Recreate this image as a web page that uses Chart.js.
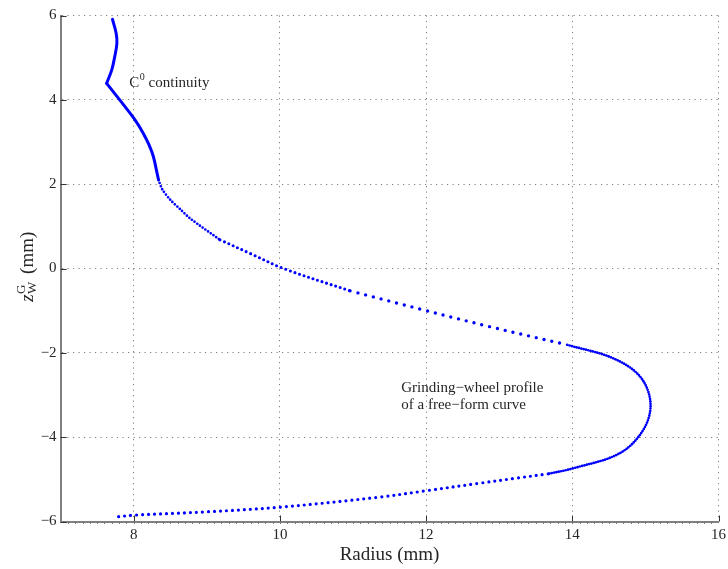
<!DOCTYPE html>
<html><head><meta charset="utf-8">
<script src="https://cdn.jsdelivr.net/npm/chart.js@4.4.0/dist/chart.umd.min.js"></script>
<style>html,body{margin:0;padding:0;background:#fff}#wrap{width:728px;height:569px;position:relative}</style>
</head><body><div id="wrap"><canvas id="c" width="728" height="569"></canvas></div>
<script>
// ---- data ----
const xTicks = [8, 10, 12, 14, 16];
const yTicks = [-6, -4, -2, 0, 2, 4, 6];
const topArc = [[7.71,5.91],[7.76,5.58],[7.77,5.34],[7.74,5.02],[7.70,4.71],[7.63,4.39]];
const upperFlank = [[7.63,4.39],[7.83,3.95],[8.02,3.52],[8.13,3.21],[8.21,2.93],[8.27,2.65],[8.31,2.34],[8.34,2.10]];
const midFlankA = [[8.34,2.10],[8.39,1.88],[8.50,1.63],[8.64,1.40],[8.77,1.19],[9.18,0.68]];
const midFlankB = [[9.18,0.68],[9.59,0.36],[10.05,0.0],[10.96,-0.53]];
const midFlankC = [[10.96,-0.53],[11.96,-0.98],[12.87,-1.38],[13.93,-1.81]];
const tipBulge = [[13.93,-1.81],[14.56,-2.13],[14.93,-2.57],[15.07,-3.20],[14.97,-3.83],[14.65,-4.38],[14.01,-4.74],[13.67,-4.87]];
const lowerFlank = [[13.67,-4.87],[13.24,-4.97],[12.74,-5.09],[12.0,-5.27],[11.37,-5.42],[10.0,-5.66],[9.0,-5.77],[8.0,-5.85],[7.77,-5.89]];
const noteC = 'C';
const noteCsup = '0';
const noteCrest = ' continuity';
const noteG1 = 'Grinding\u2212wheel profile';
const noteG2 = 'of a free\u2212form curve';
const xTitle = 'Radius (mm)';

// ---- styling ----
const SERIF = '"Liberation Serif","Times New Roman",Times,serif';
const BLUE = '#0000ff';
const TXT = '#262626';
const fmt = v => String(v).replace('-', '\u2212');
const toXY = a => a.map(p => ({x: p[0], y: p[1]}));

function seg(pts, width, gap, tension) {
  return {
    data: toXY(pts), showLine: true, borderColor: BLUE, backgroundColor: BLUE,
    borderWidth: width, pointRadius: 0, tension: tension === undefined ? 0.35 : tension,
    borderCapStyle: 'round', borderJoinStyle: 'round',
    borderDash: gap ? [0, gap] : []
  };
}

const extras = {
  id: 'extras',
  afterDraw(chart) {
    const {ctx, chartArea: ca} = chart;
    const x = chart.scales.x, y = chart.scales.y;
    ctx.save();
    // inward major ticks
    ctx.strokeStyle = '#333'; ctx.lineWidth = 1;
    xTicks.forEach(v => { const p = Math.round(x.getPixelForValue(v)) + 0.5;
      ctx.beginPath(); ctx.moveTo(p, ca.bottom); ctx.lineTo(p, ca.bottom - 6); ctx.stroke(); });
    yTicks.forEach(v => { const p = Math.round(y.getPixelForValue(v)) + 0.5;
      ctx.beginPath(); ctx.moveTo(ca.left, p); ctx.lineTo(ca.left + 6, p); ctx.stroke(); });
    // minor ticks on bottom axis
    ctx.strokeStyle = '#777';
    for (let i = 71; i < 160; i++) {
      const p = Math.round(x.getPixelForValue(i / 10)) + 0.5;
      ctx.beginPath(); ctx.moveTo(p, ca.bottom); ctx.lineTo(p, ca.bottom + 2.5); ctx.stroke();
    }
    // annotations
    ctx.fillStyle = TXT; ctx.textBaseline = 'alphabetic'; ctx.textAlign = 'left';
    let px = x.getPixelForValue(7.94), py = y.getPixelForValue(4.30);
    ctx.font = '15px ' + SERIF; ctx.fillText(noteC, px, py);
    let w = ctx.measureText(noteC).width;
    ctx.font = '10px ' + SERIF; ctx.fillText(noteCsup, px + w + 0.5, py - 7);
    w += ctx.measureText(noteCsup).width + 0.5;
    ctx.font = '15px ' + SERIF; ctx.fillText(noteCrest, px + w, py);
    px = x.getPixelForValue(11.66); py = y.getPixelForValue(-2.94);
    ctx.fillText(noteG1, px, py);
    ctx.fillText(noteG2, px, py + 16.5);
    // y-axis title  z_W^G (mm)
    ctx.translate(33, 267); ctx.rotate(-Math.PI / 2);
    ctx.font = 'italic 19px ' + SERIF; const wz = ctx.measureText('z').width;
    ctx.font = '13px ' + SERIF; const wG = ctx.measureText('G').width, wW = ctx.measureText('W').width;
    ctx.font = '19px ' + SERIF; const wm = ctx.measureText(' (mm)').width;
    const total = wz + Math.max(wG, wW) + 3 + wm;
    let sx = -total / 2;
    ctx.font = 'italic 19px ' + SERIF; ctx.fillText('z', sx, 0); sx += wz + 0.5;
    ctx.font = '13px ' + SERIF; ctx.fillText('G', sx, -8); ctx.fillText('W', sx, 3);
    sx += Math.max(wG, wW) + 3;
    ctx.font = '19px ' + SERIF; ctx.fillText(' (mm)', sx, 0);
    ctx.restore();
  }
};

new Chart(document.getElementById('c'), {
  type: 'scatter',
  data: { datasets: [
    seg(topArc, 3, 0),
    seg(upperFlank, 3, 0, 0.25),
    seg(midFlankA, 2.7, 3.3, 0.3),
    seg(midFlankB, 3.1, 4.8),
    seg(midFlankC, 3.4, 8),
    seg(tipBulge, 2.7, 2.4),
    seg(lowerFlank, 3.2, 6)
  ]},
  options: {
    responsive: false, animation: false, devicePixelRatio: 1,
    layout: { padding: { left: 0, top: 15.5, right: 9.5, bottom: 0 } },
    plugins: { legend: { display: false }, tooltip: { enabled: false } },
    scales: {
      x: {
        type: 'linear', min: 7, max: 16,
        afterBuildTicks: s => { s.ticks = xTicks.map(v => ({value: v})); },
        afterFit: s => { s.height = 47.5; s.paddingLeft = 0; s.paddingRight = 0; },
        grid: { color: 'rgba(0,0,0,0.5)', lineWidth: 1, drawTicks: false },
        border: { color: '#808080', width: 2, dash: [1.2, 4.3] },
        ticks: { color: TXT, padding: 5, maxRotation: 0, autoSkip: false,
                 font: { family: SERIF, size: 15 }, callback: v => fmt(v) },
        title: { display: true, text: xTitle, color: TXT, padding: { top: 0, bottom: 3 },
                 font: { family: SERIF, size: 19 } }
      },
      y: {
        type: 'linear', min: -6, max: 6,
        afterBuildTicks: s => { s.ticks = yTicks.map(v => ({value: v})); },
        afterFit: s => { s.width = 60.6; s.paddingTop = 0; s.paddingBottom = 0; },
        grid: { color: 'rgba(0,0,0,0.5)', lineWidth: 1, drawTicks: false },
        border: { color: '#808080', width: 2, dash: [1.2, 4.3] },
        ticks: { color: TXT, padding: 4, autoSkip: false,
                 font: { family: SERIF, size: 15 }, callback: v => fmt(v) }
      }
    }
  },
  plugins: [extras]
});
</script>
</body></html>
